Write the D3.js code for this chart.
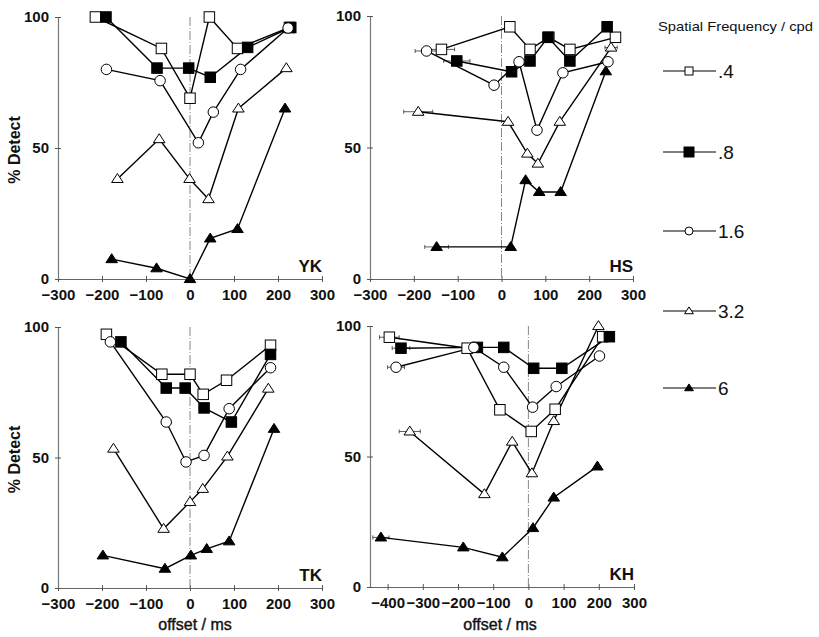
<!DOCTYPE html>
<html><head><meta charset="utf-8">
<script src="https://cdn.jsdelivr.net/npm/d3@7"></script>
<style>body{margin:0;background:#fff;} svg{display:block;font-family:"Liberation Sans",Arial,sans-serif;}</style>
</head><body>
<svg id="c" width="819" height="637"></svg>
<script>
// ---- data ----
const seriesNames = [".4", ".8", "1.6", "3.2", "6"];
const seriesSymbols = ["squareOpen", "squareFilled", "circleOpen", "triangleOpen", "triangleFilled"];
const panelNames = ["YK", "HS", "TK", "KH"];
const yTicks = [0, 50, 100];
const xTicksStd = [-300, -200, -100, 0, 100, 200, 300];
const xTicksKH = [-400, -300, -200, -100, 0, 100, 200, 300];

// YK: [offset ms, % detect]
const YK_04 = [[-215,100],[-65,88],[0,69],[44,100],[108,88],[226,96]];
const YK_08 = [[-191,100],[-75,80.5],[-3,80.5],[46,77],[131,88.4],[229,96]];
const YK_16 = [[-190,80],[-68,75.7],[19,52],[53,63.7],[115,80],[223,95.8]];
const YK_32 = [[-165,38.2],[-70,53.4],[-1,38.2],[42,30.5],[110,65.1],[219,80.5]];
const YK_6  = [[-178,7.6],[-76,4.1],[0,0],[46,15.5],[108,19.1],[216,65.1]];
// HS
const HS_04 = [[-137,87.3],[19,95.9],[65,87.3],[108,91.9],[156,87.3],[260,91.9]];
const HS_08 = [[-102,82.9],[23,78.8],[65,82.9],[106,91.9],[156,82.9],[241,95.9]];
const HS_16 = [[-171,86.7],[-17,73.7],[40,82.6],[81,56.6],[140,78.4],[243,82.6]];
const HS_32 = [[-190,63.6],[15,59.8],[59,47.7],[83,43.9],[133,59.8],[250,88]];
const HS_6  = [[-148,12.2],[21,12.2],[55,37.6],[86,33.1],[135,33.1],[238,79]];
// TK
const TK_04 = [[-190,97.2],[-64,81.9],[0,81.9],[30,74.2],[83,79.6],[183,93]];
const TK_08 = [[-157,94.3],[-54,76.6],[-11,76.6],[32,69],[94,63.6],[183,89.5]];
const TK_16 = [[-181,94.3],[-54,63.6],[-9,48.3],[32,50.8],[89,68.7],[183,84.4]];
const TK_32 = [[-174,53.4],[-60,22.7],[0,33],[29,38],[85,50.4],[178,76.4]];
const TK_6  = [[-198,12.5],[-57,7.4],[2,12.5],[38,15],[89,17.9],[191,61]];
// KH
const KH_04 = [[-395,95.7],[-174,91.5],[-81,67.9],[8,59.6],[76,68.1],[211,95.9]];
const KH_08 = [[-362,91.5],[-145,91.8],[-70,91.8],[15,83.8],[95,83.8],[230,95.9]];
const KH_16 = [[-376,84.2],[-155,91.8],[-70,84.2],[12,68.9],[79,76.8],[202,88.5]];
const KH_32 = [[-337,59.6],[-125,35.6],[-46,55.7],[10,43.6],[72,63.6],[199,100]];
const KH_6  = [[-419,19],[-185,15.2],[-74,11.4],[13,22.6],[72,34.3],[196,46.2]];

// horizontal error bars [offset, % detect, half-width ms]
const HS_err = [[-137,87.3,30],[-171,86.7,26],[-190,63.6,33],[-148,12.2,27],[-102,82.9,30],[250,88,14]];
const KH_err = [[-395,95.7,28],[-376,84.2,24],[-337,59.6,30],[-419,19,23],[-362,91.5,25]];

const panels = [
  {name:"YK", series:[YK_04,YK_08,YK_16,YK_32,YK_6], err:[], xdom:[-300,300], xt:xTicksStd, x0:58, x1:322, y0:279, y1:17, xlab:false},
  {name:"HS", series:[HS_04,HS_08,HS_16,HS_32,HS_6], err:HS_err, xdom:[-300,300], xt:xTicksStd, x0:370, x1:633, y0:279, y1:16, xlab:false},
  {name:"TK", series:[TK_04,TK_08,TK_16,TK_32,TK_6], err:[], xdom:[-300,300], xt:xTicksStd, x0:58, x1:322, y0:588, y1:327, xlab:true},
  {name:"KH", series:[KH_04,KH_08,KH_16,KH_32,KH_6], err:KH_err, xdom:[-450,300], xt:xTicksKH, x0:370, x1:634, y0:587, y1:326, xlab:true}
];

const svg = d3.select("#c");

function drawSymbol(g, type, x, y, s) {
  const sw = 1;
  if (type.startsWith("square")) {
    g.append("rect").attr("x", x - s/2).attr("y", y - s/2).attr("width", s).attr("height", s)
      .attr("fill", type.endsWith("Filled") ? "#000" : "#fff").attr("stroke", "#000").attr("stroke-width", sw);
  } else if (type.startsWith("circle")) {
    g.append("circle").attr("cx", x).attr("cy", y).attr("r", s/2)
      .attr("fill", "#fff").attr("stroke", "#000").attr("stroke-width", sw);
  } else {
    const h = s * 0.85, w = s * 1.1;
    g.append("path").attr("d", `M${x},${y - h*0.6}L${x + w/2},${y + h*0.4}L${x - w/2},${y + h*0.4}Z`)
      .attr("fill", type.endsWith("Filled") ? "#000" : "#fff").attr("stroke", "#000").attr("stroke-width", sw);
  }
}

panels.forEach(p => {
  const x = d3.scaleLinear().domain(p.xdom).range([p.x0, p.x1]);
  const y = d3.scaleLinear().domain([0, 100]).range([p.y0, p.y1]);
  const g = svg.append("g");

  // axes
  const xAxis = d3.axisBottom(x).tickValues(p.xt).tickSize(3).tickSizeOuter(0).tickFormat(d3.format("d"));
  const gx = g.append("g").attr("transform", `translate(0,${p.y0})`).call(xAxis);
  gx.select(".domain").attr("stroke", "#666").attr("stroke-width", 1.2);
  gx.selectAll(".tick line").attr("stroke", "#555").attr("y1", -3);
  gx.selectAll(".tick text").attr("dy", 0).attr("y", 21).attr("font-size", 15).attr("font-weight", "bold").attr("fill", "#111");

  const yAxis = d3.axisLeft(y).tickValues(yTicks).tickSize(3).tickSizeOuter(0);
  const gy = g.append("g").attr("transform", `translate(${p.x0},0)`).call(yAxis);
  gy.select(".domain").attr("stroke", "#777").attr("stroke-width", 1.2);
  gy.selectAll(".tick line").attr("stroke", "#555").attr("x2", -3).attr("x1", 3);
  gy.selectAll(".tick text").attr("x", -9).attr("font-size", 15).attr("font-weight", "bold").attr("fill", "#111");

  // zero line (dash-dot)
  g.append("line").attr("x1", x(0)).attr("x2", x(0)).attr("y1", y(100)).attr("y2", y(0))
    .attr("stroke", "#888").attr("stroke-width", 1).attr("stroke-dasharray", "9,2,1,2");

  // error bars
  p.err.forEach(e => {
    const xa = x(e[0] - e[2]), xb = x(e[0] + e[2]), yy = y(e[1]);
    g.append("line").attr("x1", xa).attr("x2", xb).attr("y1", yy).attr("y2", yy).attr("stroke", "#333").attr("stroke-width", 0.8);
    [xa, xb].forEach(xx => g.append("line").attr("x1", xx).attr("x2", xx).attr("y1", yy - 2).attr("y2", yy + 2).attr("stroke", "#333").attr("stroke-width", 0.8));
  });

  // lines
  const line = d3.line().x(d => x(d[0])).y(d => y(d[1]));
  p.series.forEach(s => {
    g.append("path").datum(s).attr("d", line).attr("fill", "none").attr("stroke", "#000").attr("stroke-width", 1.4);
  });
  // markers
  p.series.forEach((s, i) => {
    s.forEach(d => drawSymbol(g, seriesSymbols[i], x(d[0]), y(d[1]), 10.5));
  });

  // panel label
  g.append("text").attr("x", p.x1).attr("y", p.y0 - 7).attr("text-anchor", "end")
    .attr("font-size", 17).attr("font-weight", "bold").attr("fill", "#111").text(p.name);

  // y label
  if (p.x0 < 100) {
    g.append("text").attr("transform", `translate(20,${(p.y0 + p.y1)/2 + 2}) rotate(-90)`)
      .attr("text-anchor", "middle").attr("font-size", 16).attr("font-weight", "bold").attr("fill", "#111").text("% Detect");
  }
  if (p.xlab) {
    g.append("text").attr("x", p.name === "TK" ? 195 : 500).attr("y", 630).attr("text-anchor", "middle")
      .attr("font-size", 16).attr("fill", "#111").attr("stroke", "#111").attr("stroke-width", 0.4).text("offset / ms");
  }
});

// legend
const lg = svg.append("g");
lg.append("text").attr("x", 658).attr("y", 31).attr("font-size", 13).attr("fill", "#111")
  .attr("textLength", 155).attr("lengthAdjust", "spacingAndGlyphs").text("Spatial Frequency / cpd");
const legendY = [71, 152, 231, 311, 388];
seriesNames.forEach((n, i) => {
  const yy = legendY[i];
  lg.append("line").attr("x1", 663).attr("x2", 716).attr("y1", yy).attr("y2", yy).attr("stroke", "#000").attr("stroke-width", 1.2);
  drawSymbol(lg, seriesSymbols[i], 689, yy, i === 1 ? 10 : 8);
  lg.append("text").attr("x", 718).attr("y", yy + 7).attr("font-size", 19).attr("fill", "#111").text(n);
});
</script>
</body></html>
